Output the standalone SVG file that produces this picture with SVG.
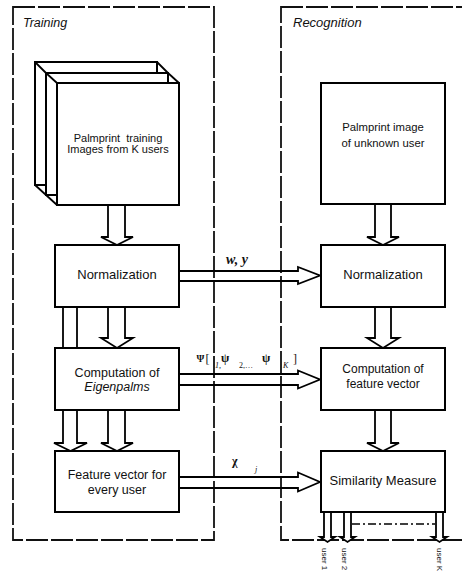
<svg xmlns="http://www.w3.org/2000/svg" width="462" height="573" viewBox="0 0 462 573">
<style>
.box{fill:#fff;stroke:#000;stroke-width:2}
.frame{fill:none;stroke:#111;stroke-width:1.8;stroke-dasharray:22 3}
.arr{fill:#fff;stroke:#000;stroke-width:1.8;stroke-linejoin:miter}
.ln{fill:none;stroke:#000;stroke-width:1.8}
.t{font-family:"Liberation Sans",Arial,sans-serif;fill:#111;text-anchor:middle}
.ti{font-family:"Liberation Sans",Arial,sans-serif;font-style:italic;fill:#111}
.m{font-family:"Liberation Serif","Times New Roman",serif;fill:#111}
.u{font-family:"Liberation Sans",Arial,sans-serif;font-size:8px;fill:#111}
</style>
<rect width="462" height="573" fill="#fff"/>
<g id="training-frame">
<rect class="frame" x="13" y="7" width="201" height="533"/>
<text class="ti" x="23" y="27" font-size="12.5">Training</text>
</g>
<g id="recognition-frame">
<rect class="frame" x="281" y="7" width="200" height="533"/>
<text class="ti" x="293" y="27" font-size="13">Recognition</text>
</g>
<g id="connectors">
<path class="arr" d="M108,205V237H101L117,245L133,237H125V205"/>
<path class="arr" d="M108,307V338H101L117,348L133,338H125V307"/>
<line class="ln" x1="63" y1="307" x2="63" y2="348"/>
<line class="ln" x1="77" y1="307" x2="77" y2="348"/>
<path class="arr" d="M63,410V443H54L70.5,451L87,443H77V410"/>
<path class="arr" d="M108,410V443H101L117,451L133,443H125V410"/>
<path class="arr" d="M375,204V237H367L383,245L399,237H391V204"/>
<path class="arr" d="M375,307V338H367L383,348L399,338H391V307"/>
<path class="arr" d="M375,410V443H367L383,451L399,443H391V410"/>
<path class="ln" d="M179,271H298V267L320,275.5L298,284V281H179"/>
<path class="ln" d="M179,374H298V370.5L320,379.5L298,388.5V385H179"/>
<path class="ln" d="M179,477H298V472.5L320,482L298,491.5V488H179"/>
<path class="arr" d="M324,512V537H320L327.5,542L335,537H331V512"/>
<path class="arr" d="M344,512V537H340L347.5,542L355,537H351V512"/>
<path class="arr" d="M436,512V537H432L439.5,542L447,537H443V512"/>
<line x1="352" y1="524" x2="435" y2="524" stroke="#000" stroke-width="1.5" stroke-dasharray="8 3 2 3"/>
<text class="m" x="226" y="264" font-size="14" font-weight="bold" font-style="italic">w, y</text>
<text class="m" x="196.5" y="362" font-size="10" font-weight="bold">Ψ</text>
<text class="m" x="205.5" y="363" font-size="12">[</text>
<text class="m" x="215" y="368" font-size="8" font-style="italic">1,</text>
<text class="m" x="221" y="362" font-size="12" font-weight="bold">ψ</text>
<text class="m" x="239" y="368" font-size="8">2,…</text>
<text class="m" x="262" y="362" font-size="12" font-weight="bold">ψ</text>
<text class="m" x="283" y="368" font-size="8" font-style="italic">K</text>
<text class="m" x="293" y="363" font-size="12">]</text>
<text class="m" x="232" y="465" font-size="12" font-weight="bold">χ</text>
<text class="m" x="255" y="472" font-size="8" font-style="italic">j</text>
<text class="u" transform="translate(322,548) rotate(90)">user 1</text>
<text class="u" transform="translate(342,548) rotate(90)">user 2</text>
<text class="u" transform="translate(437,548) rotate(90)">user K</text>
</g>
<g id="training-images">
<rect class="box" x="35" y="62" width="122" height="123"/>
<line class="ln" x1="35" y1="62" x2="46" y2="73"/>
<line class="ln" x1="157" y1="62" x2="168" y2="73"/>
<line class="ln" x1="35" y1="185" x2="46" y2="195"/>
<rect class="box" x="46" y="73" width="122" height="122"/>
<line class="ln" x1="46" y1="73" x2="57" y2="83"/>
<line class="ln" x1="168" y1="73" x2="179" y2="83"/>
<line class="ln" x1="46" y1="195" x2="57" y2="205"/>
<rect class="box" x="57" y="83" width="122" height="122"/>
<text class="t" x="118" y="142" font-size="11" xml:space="preserve">Palmprint  training</text>
<text class="t" x="118" y="153" font-size="11">Images from K users</text>
</g>
<g id="normalization-train">
<rect class="box" x="55" y="245" width="124" height="62"/>
<text class="t" x="117" y="279" font-size="13">Normalization</text>
</g>
<g id="eigenpalms">
<rect class="box" x="55" y="348" width="124" height="62"/>
<text class="t" x="117" y="377" font-size="12.5">Computation of</text>
<text class="t" x="117" y="391" font-size="12.5" font-style="italic">Eigenpalms</text>
</g>
<g id="feature-train">
<rect class="box" x="55" y="451" width="124" height="61"/>
<text class="t" x="117" y="479" font-size="12.5">Feature vector for</text>
<text class="t" x="117" y="494" font-size="12.5">every user</text>
</g>
<g id="unknown-image">
<rect class="box" x="321" y="83" width="124" height="121"/>
<text class="t" x="383" y="131" font-size="11.3">Palmprint image</text>
<text class="t" x="383" y="147" font-size="11.3">of unknown user</text>
</g>
<g id="normalization-rec">
<rect class="box" x="321" y="245" width="124" height="62"/>
<text class="t" x="383" y="279" font-size="13">Normalization</text>
</g>
<g id="feature-rec">
<rect class="box" x="321" y="348" width="124" height="62"/>
<text class="t" x="383" y="373" font-size="12">Computation of</text>
<text class="t" x="383" y="388" font-size="12">feature vector</text>
</g>
<g id="similarity">
<rect class="box" x="321" y="451" width="124" height="61"/>
<text class="t" x="383" y="485" font-size="13">Similarity Measure</text>
</g>
</svg>
